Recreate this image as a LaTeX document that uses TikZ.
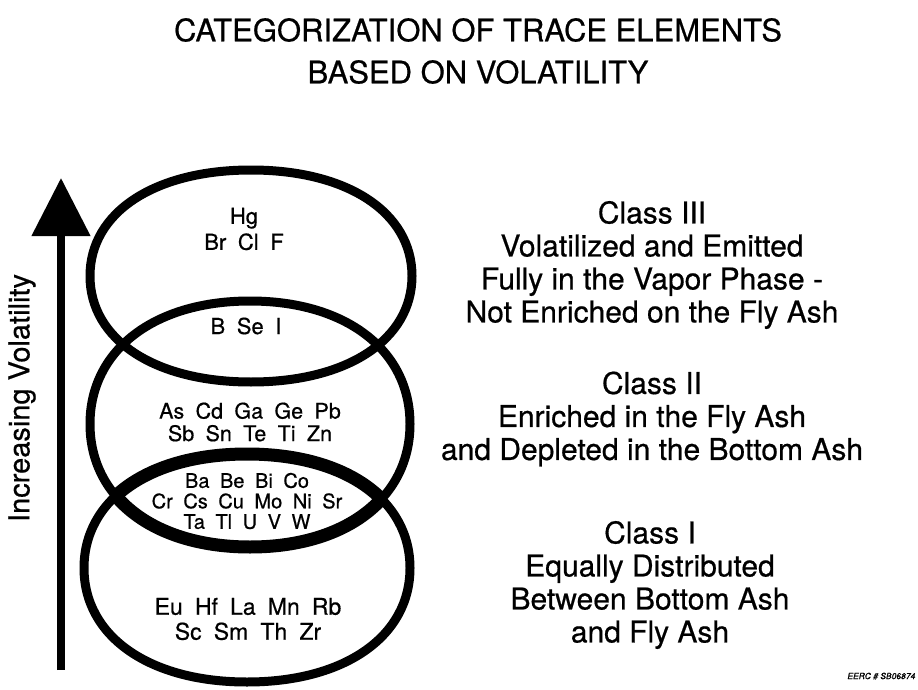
\documentclass[tikz,border=0pt]{standalone}
\usepackage{fontspec}
\setmainfont{TeX Gyre Heros}[FakeBold=0.55]
\newfontfamily\elfont[WordSpace=1.9,FakeBold=0.55]{TeX Gyre Heros}
\newfontfamily\reffont[FakeBold=1.2,FakeSlant=0.2]{TeX Gyre Heros}
\usetikzlibrary{arrows.meta}
% superellipse-like ring path centred at the origin: #1 = x radius, #2 = y radius
\newcommand\ringpath[2]{({#1},0) .. controls ({#1},{0.6*#2}) and ({0.6*#1},{#2}) .. (0,{#2})
  .. controls ({-0.6*#1},{#2}) and ({-#1},{0.6*#2}) .. ({-#1},0)
  .. controls ({-#1},{-0.6*#2}) and ({-0.6*#1},{-#2}) .. (0,{-#2})
  .. controls ({0.6*#1},{-#2}) and ({#1},{-0.6*#2}) .. ({#1},0) -- cycle}
\begin{document}
\begin{tikzpicture}[x=1pt,y=-1pt,
  ring/.style={line width=9pt},
  lensring/.style={line width=13pt},
  el/.style={align=center, inner sep=0pt},
  cls/.style={font=\fontsize{30}{33}\selectfont, align=center, inner sep=0pt},
  ttl/.style={font=\fontsize{31}{42}\selectfont, align=center, inner sep=0pt},
]
\useasboundingbox[fill=white] (0,0) rectangle (918,690);

\node[ttl] (title) at (478,51) {CATEGORIZATION OF TRACE ELEMENTS\\BASED ON VOLATILITY};

% rings
\coordinate (c3) at (251,276);
\coordinate (c2) at (250,424);
\coordinate (c1) at (247,568);
\draw[ring, shift={(c3)}] \ringpath{161}{106};
\draw[ring, shift={(c2)}] \ringpath{160}{123};
\draw[ring, shift={(c1)}] \ringpath{163}{114};
\begin{scope}
  \clip[shift={(c1)}] \ringpath{163}{114};
  \draw[lensring, shift={(c2)}] \ringpath{160}{123};
\end{scope}
\begin{scope}
  \clip[shift={(c2)}] \ringpath{160}{123};
  \draw[lensring, shift={(c1)}] \ringpath{163}{114};
\end{scope}

% arrow
\coordinate (abot) at (61,670);
\coordinate (atop) at (61,178);
\draw[line width=8pt, -{Triangle[length=58pt,width=57pt]}] (abot) -- (atop);
\node[font=\fontsize{29}{30}\selectfont, rotate=90, inner sep=0pt] (vol) at (22,398) {Increasing Volatility};

% element texts
\node[el, font=\elfont\fontsize{22}{26}\selectfont] (e3) at (244,229) {Hg\\Br Cl F};
\node[el, font=\elfont\fontsize{22}{24}\selectfont] (e23) at (246,326) {B Se I};
\node[el, font=\elfont\fontsize{21.5}{22.5}\selectfont] (e2) at (250,422) {As Cd Ga Ge Pb\\Sb Sn Te Ti Zn};
\node[el, font=\elfont\fontsize{20}{20.5}\selectfont] (e12) at (247,501) {Ba Be Bi Co\\Cr Cs Cu Mo Ni Sr\\Ta Tl U V W};
\node[el, font=\elfont\fontsize{23}{25}\selectfont] (e1) at (248,619) {Eu Hf La Mn Rb\\Sc Sm Th Zr};

% class texts
\node[cls] (k3) at (652,265) {Class III\\Volatilized and Emitted\\Fully in the Vapor Phase -\\Not Enriched on the Fly Ash};
\node[cls] (k2) at (652,419) {Class II\\Enriched in the Fly Ash\\and Depleted in the Bottom Ash};
\node[cls] (k1) at (650,585) {Class I\\Equally Distributed\\Between Bottom Ash\\and Fly Ash};

\node[font=\reffont\fontsize{8.5}{9}\selectfont, inner sep=0pt] (ref) at (881,676) {EERC \# SB06874};
\end{tikzpicture}
\end{document}
